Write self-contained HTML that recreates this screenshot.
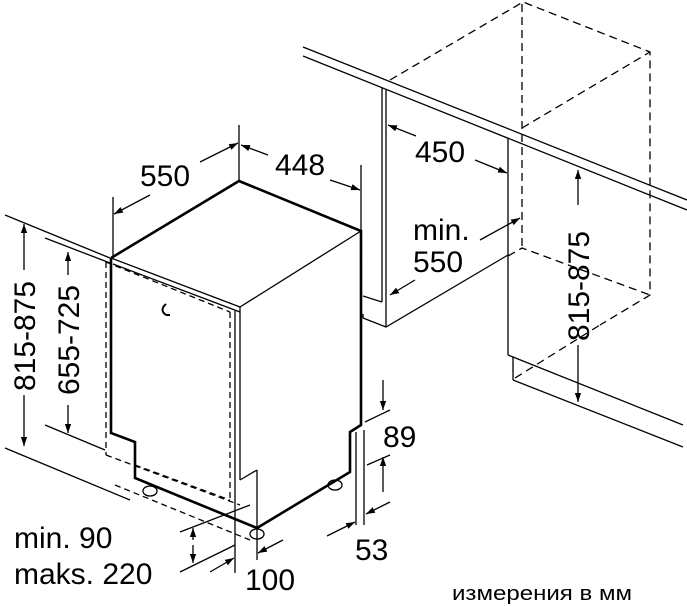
<!DOCTYPE html>
<html><head><meta charset="utf-8"><style>
html,body{margin:0;padding:0;background:#fff;}
svg{display:block;}
text{font-family:"Liberation Sans",sans-serif;fill:#000;}
</style></head><body>
<svg width="687" height="606" viewBox="0 0 687 606" xmlns="http://www.w3.org/2000/svg">
<defs>
<marker id="a" viewBox="0 0 10 10" refX="10" refY="5" markerWidth="9" markerHeight="9" orient="auto-start-reverse" markerUnits="userSpaceOnUse"><path d="M0,1.5 L10,5 L0,8.5 z" fill="#000"/></marker>
</defs>
<g stroke="#000" fill="none" stroke-width="1.3">
<line x1="303" y1="47" x2="687" y2="200"/>
<line x1="303" y1="56" x2="687" y2="210"/>
<line x1="382" y1="88" x2="382" y2="302"/>
<line x1="386" y1="90" x2="386" y2="327"/>
<polyline points="363,318 386,327 508,255"/>
<line x1="363" y1="318" x2="363" y2="314"/>
<line x1="382" y1="302" x2="363" y2="296"/>
<line x1="508" y1="138" x2="508" y2="355"/>
<polyline points="508,355 513,357 513,380"/>
<line x1="513" y1="357" x2="683" y2="425"/>
<line x1="513" y1="380" x2="683" y2="447"/>
<g stroke-dasharray="8,5">
<polyline points="390,80 523,2 650,52 650,295 600,325"/>
<line x1="522" y1="4" x2="522" y2="248"/>
<line x1="522" y1="128" x2="650" y2="52"/>
<polyline points="508,256 522,248 650,295"/>
<line x1="515" y1="378" x2="600" y2="325"/>
</g>
<line x1="416" y1="136" x2="388" y2="125" marker-end="url(#a)"/>
<line x1="475" y1="160" x2="507" y2="173" marker-end="url(#a)"/>
<line x1="480" y1="240" x2="520" y2="218" marker-end="url(#a)"/>
<line x1="415" y1="280" x2="390" y2="295" marker-end="url(#a)"/>
<line x1="578" y1="205" x2="578" y2="170" marker-end="url(#a)"/>
<line x1="578" y1="345" x2="578" y2="402" marker-end="url(#a)"/>

<g stroke-width="2.6">
<polyline points="111,258 239,181 361,231 361,425 350,432 350,472 257,528 135,478 135,442 111,433 111,258"/>
</g>
<line x1="240" y1="307" x2="361" y2="231"/>
<line x1="111" y1="258" x2="240" y2="307"/>
<line x1="113" y1="264" x2="240" y2="312"/>
<line x1="240" y1="307" x2="240" y2="480"/>
<line x1="235" y1="311" x2="235" y2="573"/>
<line x1="240" y1="480" x2="257" y2="470"/>
<line x1="257" y1="470" x2="257" y2="560"/>
<path d="M166,304 q-7,6 0,11 M166,315 l4,0" stroke-width="2"/>
<g stroke-dasharray="6,4">
<line x1="106" y1="262" x2="106" y2="455"/>
<line x1="106" y1="262" x2="230" y2="312"/>
<line x1="230" y1="312" x2="230" y2="500"/>
<line x1="106" y1="455" x2="240" y2="505"/>
<line x1="115" y1="485" x2="250" y2="540"/>
<line x1="135" y1="465" x2="230" y2="500"/>
</g>
<ellipse cx="150" cy="491" rx="7" ry="5"/>
<ellipse cx="257" cy="534" rx="7" ry="5"/>
<ellipse cx="335" cy="485" rx="7" ry="5"/>
<line x1="113" y1="197" x2="113" y2="258"/>
<line x1="239" y1="125" x2="239" y2="181"/>
<line x1="361" y1="165" x2="361" y2="231"/>
<line x1="200" y1="162" x2="238" y2="143" marker-end="url(#a)"/>
<line x1="150" y1="195" x2="114" y2="214" marker-end="url(#a)"/>
<line x1="268" y1="155" x2="241" y2="145" marker-end="url(#a)"/>
<line x1="330" y1="180" x2="360" y2="190" marker-end="url(#a)"/>
<line x1="5" y1="215" x2="110" y2="258"/>
<line x1="5" y1="448" x2="130" y2="500"/>
<line x1="45" y1="238" x2="110" y2="263"/>
<line x1="45" y1="425" x2="105" y2="450"/>
<line x1="24" y1="270" x2="24" y2="224" marker-end="url(#a)"/>
<line x1="24" y1="395" x2="24" y2="446" marker-end="url(#a)"/>
<line x1="68" y1="275" x2="68" y2="252" marker-end="url(#a)"/>
<line x1="68" y1="405" x2="68" y2="433" marker-end="url(#a)"/>
<line x1="180" y1="532" x2="250" y2="505"/>
<line x1="180" y1="572" x2="235" y2="545"/>
<line x1="193" y1="540" x2="193" y2="528" marker-end="url(#a)"/>
<line x1="193" y1="545" x2="193" y2="563" marker-end="url(#a)"/>
<line x1="210" y1="572" x2="234" y2="558" marker-end="url(#a)"/>
<line x1="283" y1="540" x2="258" y2="553" marker-end="url(#a)"/>
<line x1="356" y1="432" x2="356" y2="525"/>
<line x1="364" y1="430" x2="364" y2="525"/>
<line x1="365" y1="422" x2="390" y2="410"/>
<line x1="367" y1="465" x2="390" y2="455"/>
<line x1="383" y1="380" x2="383" y2="410" marker-end="url(#a)"/>
<line x1="383" y1="492" x2="383" y2="457" marker-end="url(#a)"/>
<line x1="327" y1="536" x2="355" y2="522" marker-end="url(#a)"/>
<line x1="390" y1="502" x2="366" y2="514" marker-end="url(#a)"/>
</g>
<g font-size="30">
<text x="140" y="186">550</text>
<text x="275" y="175">448</text>
<text x="415" y="162">450</text>
<text x="413" y="240">min.</text>
<text x="413" y="272">550</text>
<text x="383" y="447">89</text>
<text x="355" y="560">53</text>
<text x="245" y="590">100</text>
<text x="14" y="548">min. 90</text>
<text x="14" y="584">maks. 220</text>
<text transform="translate(589,286) rotate(-90)" text-anchor="middle">815-875</text>
<text transform="translate(35,336) rotate(-90)" text-anchor="middle">815-875</text>
<text transform="translate(79,340) rotate(-90)" text-anchor="middle">655-725</text>
</g>
<text x="452" y="600" font-size="20" textLength="180" lengthAdjust="spacingAndGlyphs">измерения в мм</text>
</svg>
</body></html>
